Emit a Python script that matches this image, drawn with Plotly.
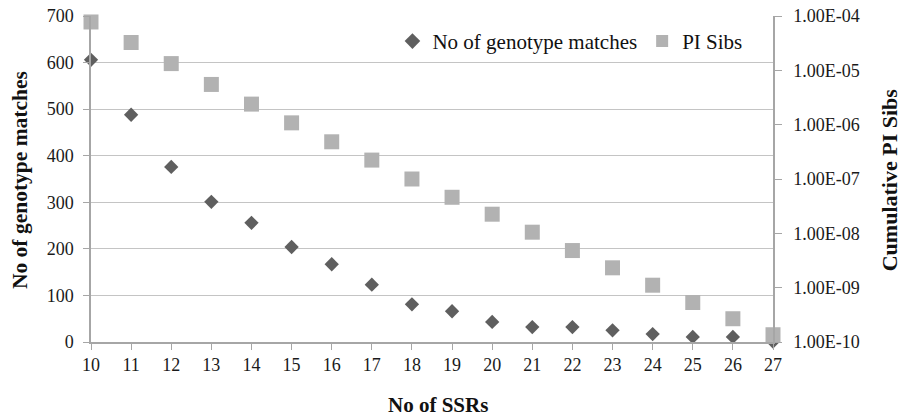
import plotly.graph_objects as go

ssrs = list(range(10, 28))
genotype_matches = [606, 488, 376, 301, 256, 204, 167, 123, 81, 66, 43, 32, 32, 25, 17, 11, 11, 1]
pi_sibs = [7.76e-5, 3.25e-5, 1.33e-5, 5.5e-6, 2.39e-6, 1.08e-6, 4.84e-7, 2.23e-7, 1.0e-7,
           4.61e-8, 2.25e-8, 1.05e-8, 4.82e-9, 2.32e-9, 1.11e-9, 5.33e-10, 2.68e-10, 1.36e-10]
y2_tickvals = [1e-10, 1e-9, 1e-8, 1e-7, 1e-6, 1e-5, 1e-4]
y2_ticktext = ["1.00E-10", "1.00E-09", "1.00E-08", "1.00E-07", "1.00E-06", "1.00E-05", "1.00E-04"]

FONT = "Liberation Serif, Times New Roman, serif"
AXC = "#a6a6a6"

fig = go.Figure()
fig.add_trace(go.Scatter(
    x=ssrs, y=genotype_matches, mode="markers", name="No of genotype matches",
    marker=dict(symbol="diamond", size=11, color="#5f5f5f"), cliponaxis=False, yaxis="y"))
fig.add_trace(go.Scatter(
    x=ssrs, y=pi_sibs, mode="markers", name="PI Sibs",
    marker=dict(symbol="square", size=15, color="#b2b2b2"), cliponaxis=False, yaxis="y2"))

fig.update_layout(
    width=908, height=420,
    margin=dict(l=91, r=135, t=16, b=78, autoexpand=False),
    paper_bgcolor="white", plot_bgcolor="white",
    font=dict(family=FONT, size=18, color="#1a1a1a"),
    showlegend=True,
    legend=dict(orientation="h", x=0.442, y=0.922, xanchor="left", yanchor="middle",
                bgcolor="rgba(0,0,0,0)", font=dict(size=21, family=FONT, color="#111"),
                itemsizing="constant", tracegroupgap=0),
    xaxis=dict(range=[10, 27], tickmode="linear", tick0=10, dtick=1, showgrid=False,
               showline=True, linecolor=AXC, linewidth=1.5, ticks="outside", ticklen=6,
               tickcolor=AXC, zeroline=False, tickfont=dict(size=18), automargin=False),
    yaxis=dict(range=[0, 700], tickmode="linear", tick0=0, dtick=100, showgrid=True,
               gridcolor="#c4c4c4", gridwidth=1.3, showline=True, linecolor=AXC, linewidth=1.5,
               ticks="outside", ticklen=6, tickcolor=AXC, zeroline=False,
               tickfont=dict(size=18), ticklabelstandoff=6, automargin=False),
    yaxis2=dict(type="log", range=[-10, -4], overlaying="y", side="right",
                tickvals=y2_tickvals, ticktext=y2_ticktext, showgrid=False,
                showline=True, linecolor=AXC, linewidth=1.5, ticks="outside", ticklen=7,
                tickcolor=AXC, zeroline=False, tickfont=dict(size=18), ticklabelstandoff=8,
                automargin=False),
    annotations=[
        dict(text="<b>No of SSRs</b>", xref="paper", yref="paper", x=0.5095, y=-0.193,
             xanchor="center", yanchor="middle", showarrow=False,
             font=dict(size=21, family=FONT, color="#111")),
        dict(text="<b>No of genotype matches</b>", xref="paper", yref="paper", x=-0.104, y=0.497,
             xanchor="center", yanchor="middle", showarrow=False, textangle=-90,
             font=dict(size=21.5, family=FONT, color="#111")),
        dict(text="<b>Cumulative PI Sibs</b>", xref="paper", yref="paper", x=1.172, y=0.497,
             xanchor="center", yanchor="middle", showarrow=False, textangle=-90,
             font=dict(size=22, family=FONT, color="#111")),
    ],
)

fig.write_html("out.html", config={"displayModeBar": False},
               post_script="document.body.style.margin='0';document.body.style.padding='0';")
